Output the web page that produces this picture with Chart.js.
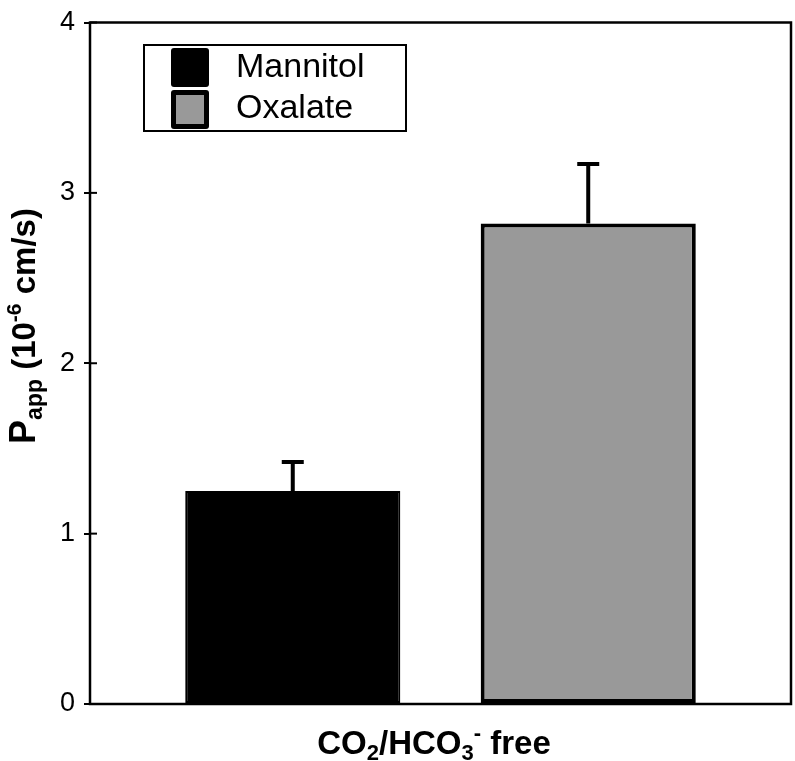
<!DOCTYPE html>
<html>
<head>
<meta charset="utf-8">
<script src="https://cdn.jsdelivr.net/npm/chart.js@4"></script>
<style>
  body { margin: 0; background: #fff; }
  #wrap { width: 795px; height: 761px; position: relative; }
</style>
</head>
<body>
<div id="wrap"><canvas id="myChart"></canvas></div>
<script>
// data
const categories = ['CO2/HCO3- free'];
const seriesNames = ['Mannitol', 'Oxalate'];
const mannitolValues = [1.25];
const oxalateValues = [2.82];
const mannitolErrors = [0.17];
const oxalateErrors = [0.35];
const yTicks = [0, 1, 2, 3, 4];

const FONT = '"Liberation Sans", Arial, Helvetica, sans-serif';

// draws a run of text pieces; each piece: [text, size, shift]
function drawRich(ctx, parts, weight, x, y, align) {
    let total = 0;
    parts.forEach(p => {
        ctx.font = weight + ' ' + p[1] + 'px ' + FONT;
        total += ctx.measureText(p[0]).width;
    });
    let cx = align === 'center' ? x - total / 2 : x;
    ctx.textAlign = 'left';
    ctx.textBaseline = 'alphabetic';
    parts.forEach(p => {
        ctx.font = weight + ' ' + p[1] + 'px ' + FONT;
        ctx.fillText(p[0], cx, y + p[2]);
        cx += ctx.measureText(p[0]).width;
    });
}

const framePlugin = {
    id: 'frame',
    beforeDatasetsDraw(chart) {
        const ctx = chart.ctx;
        const a = chart.chartArea;
        const y = chart.scales.y;
        ctx.save();
        ctx.strokeStyle = '#000';
        ctx.lineWidth = 2.5;
        ctx.strokeRect(a.left, a.top, a.right - a.left, a.bottom - a.top);
        // inner half of the tick marks
        ctx.lineWidth = 2;
        yTicks.forEach(v => {
            const py = y.getPixelForValue(v);
            ctx.beginPath();
            ctx.moveTo(a.left, py);
            ctx.lineTo(a.left + 7, py);
            ctx.stroke();
        });
        ctx.restore();
    },
    afterDatasetsDraw(chart) {
        const ctx = chart.ctx;
        const y = chart.scales.y;
        const errs = [mannitolErrors, oxalateErrors];
        const vals = [mannitolValues, oxalateValues];
        ctx.save();
        ctx.strokeStyle = '#000';
        ctx.lineWidth = 4;
        chart.data.datasets.forEach((ds, i) => {
            chart.getDatasetMeta(i).data.forEach((bar, j) => {
                const top = y.getPixelForValue(vals[i][j]);
                const hi = y.getPixelForValue(vals[i][j] + errs[i][j]);
                ctx.beginPath();
                ctx.moveTo(bar.x, top);
                ctx.lineTo(bar.x, hi);
                ctx.moveTo(bar.x - 11, hi);
                ctx.lineTo(bar.x + 11, hi);
                ctx.stroke();
            });
        });
        ctx.restore();
    },
    afterDraw(chart) {
        const ctx = chart.ctx;
        ctx.save();
        ctx.fillStyle = '#000';

        // x label
        drawRich(ctx, [['CO', 33, 0], ['2', 22, 6], ['/HCO', 33, 0], ['3', 22, 6], ['-', 22, -14], [' free', 33, 0]],
            'bold', 434, 754, 'center');

        // y title
        ctx.save();
        ctx.translate(35, 326);
        ctx.rotate(-Math.PI / 2);
        drawRich(ctx, [['P', 36, 0], ['app', 23, 7], [' (10', 33, 0], ['-6', 21, -14], [' cm/s)', 33, 0]],
            'bold', 0, 0, 'center');
        ctx.restore();

        // legend box
        ctx.lineWidth = 2;
        ctx.strokeStyle = '#000';
        ctx.strokeRect(144, 45, 262, 86);
        const ds = chart.data.datasets;
        const rows = [[48, 68], [90, 109]];
        ds.forEach((d, i) => {
            const sy = rows[i][0];
            ctx.beginPath();
            ctx.roundRect(171, sy, 38, 39, 3);
            ctx.fillStyle = '#000';
            ctx.fill();
            if (i === 1) {
                ctx.fillStyle = d.backgroundColor;
                ctx.fillRect(176, sy + 5, 28, 29);
            }
            ctx.fillStyle = '#000';
            ctx.font = '34px ' + FONT;
            ctx.textAlign = 'left';
            ctx.textBaseline = 'middle';
            ctx.fillText(d.label, 236, rows[i][1]);
        });
        ctx.restore();
    }
};

const ctx = document.getElementById('myChart').getContext('2d');
new Chart(ctx, {
    type: 'bar',
    data: {
        labels: categories,
        datasets: [
            {
                label: seriesNames[0],
                data: mannitolValues,
                backgroundColor: '#000000',
                borderColor: '#000000',
                borderWidth: 2,
                borderSkipped: false
            },
            {
                label: seriesNames[1],
                data: oxalateValues,
                backgroundColor: '#999999',
                borderColor: '#000000',
                borderWidth: 4,
                borderSkipped: false
            }
        ]
    },
    options: {
        responsive: true,
        maintainAspectRatio: false,
        animation: false,
        categoryPercentage: 0.843,
        barPercentage: 0.728,
        layout: { padding: { top: 16, right: 4, left: 0, bottom: 0 } },
        plugins: {
            legend: { display: false },
            tooltip: { enabled: false }
        },
        scales: {
            x: {
                ticks: { display: false },
                grid: { display: false },
                border: { display: false },
                afterFit: s => { s.height = 57; }
            },
            y: {
                min: 0,
                max: 4,
                afterBuildTicks: s => { s.ticks = yTicks.map(v => ({ value: v })); },
                ticks: {
                    color: '#000',
                    padding: 9,
                    font: { family: FONT, size: 27, lineHeight: 1 }
                },
                grid: {
                    drawOnChartArea: false,
                    drawTicks: true,
                    tickLength: 6,
                    color: '#000',
                    lineWidth: 2
                },
                border: { display: false },
                afterFit: s => { s.width = 90; }
            }
        }
    },
    plugins: [framePlugin]
});
</script>
</body>
</html>
